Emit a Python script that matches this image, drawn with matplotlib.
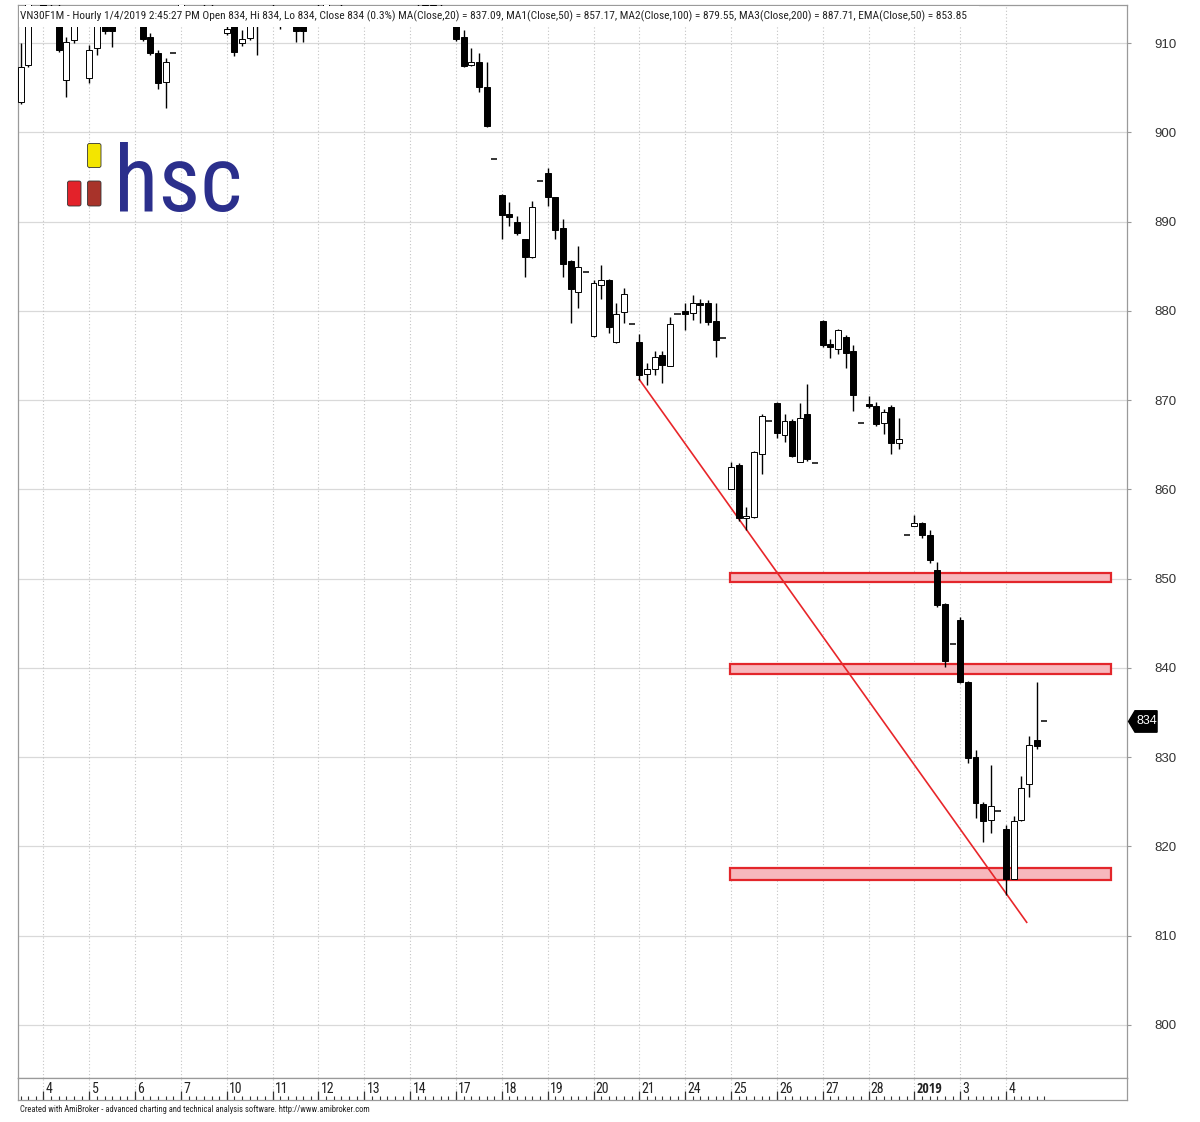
import numpy as np
import matplotlib
matplotlib.use("Agg")
import matplotlib.pyplot as plt
from matplotlib import font_manager as fm
from matplotlib.patches import Rectangle, FancyBboxPatch, Polygon
from matplotlib.transforms import blended_transform_factory

plt.rcParams["savefig.bbox"] = "standard"

title = ("VN30F1M - Hourly 1/4/2019 2:45:27 PM Open 834, Hi 834, Lo 834, Close 834 (0.3%) "
         "MA(Close,20) = 837.09, MA1(Close,50) = 857.17, MA2(Close,100) = 879.55, "
         "MA3(Close,200) = 887.71, EMA(Close,50) = 853.85")
footer = ("Created with AmiBroker - advanced charting and technical analysis software. "
          "http://www.amibroker.com")

# trading days shown on the date axis, 6 hourly bars each (last one is the ATC print)
day_labels = ["4", "5", "6", "7", "10", "11", "12", "13", "14", "17", "18", "19",
              "20", "21", "24", "25", "26", "27", "28", "2019", "3", "4"]
pre_bars = 3          # tail of Dec 3
bars_per_day = 6

opens = [
    903.4, 907.5, 916.0,                               # Dec 3
    916.0, 914.0, 914.0, 905.9, 910.3, 914.0,          # Dec 4
    906.05, 909.4, 912.5, 912.2, 913.0, 913.5,         # Dec 5
    913.0, 912.6, 910.7, 908.85, 905.6, 908.85,        # Dec 6
    913.0, 915.2, 916.4, 915.6, 914.5, 914.9,          # Dec 7
    911.1, 912.5, 910.0, 910.6, 912.5, 913.0,          # Dec 10
    913.5, 913.2, 912.8, 912.6, 912.4, 913.0,          # Dec 11
    913.6, 914.2, 915.3, 914.8, 915.5, 916.0,          # Dec 12
    916.2, 917.0, 916.5, 915.7, 916.3, 915.9,          # Dec 13
    915.6, 914.9, 915.4, 914.3, 913.8, 914.0,          # Dec 14
    913.0, 910.7, 907.5, 907.9, 905.04, 897.0,         # Dec 17
    893.0, 890.8, 890.0, 888.0, 886.0, 894.5,          # Dec 18
    895.4, 892.7, 889.24, 885.6, 882.14, 884.4,        # Dec 19
    877.2, 882.9, 883.45, 876.5, 879.9, 878.5,         # Dec 20
    876.5, 872.9, 873.45, 875.05, 873.85, 879.6,       # Dec 21
    880.0, 879.8, 880.9, 880.9, 878.9, 876.9,          # Dec 24
    860.0, 862.7, 856.8, 856.9, 864.0, 867.7,          # Dec 25
    869.7, 866.1, 867.7, 863.1, 868.4, 863.0,          # Dec 26
    878.9, 876.3, 875.7, 877.1, 875.5, 867.4,          # Dec 27
    869.6, 869.3, 867.4, 869.2, 865.2, 854.9,          # Dec 28
    855.9, 856.2, 854.9, 851.0, 847.2, 842.7,          # Jan 2
    845.4, 838.45, 830.0, 824.8, 823.0, 824.0,         # Jan 3
    822.0, 816.4, 823.0, 827.0, 831.9, 834.0,          # Jan 4
]
highs = [
    910.0, 916.5, 916.0,
    917.0, 915.0, 914.5, 910.7, 913.0, 914.0,
    909.8, 913.0, 913.0, 912.5, 914.0, 913.5,
    914.0, 913.0, 911.1, 909.2, 908.3, 908.85,
    915.8, 916.9, 917.3, 916.2, 915.4, 914.9,
    912.4, 913.0, 911.5, 913.5, 913.0, 913.0,
    914.5, 914.0, 913.5, 913.0, 912.8, 913.0,
    914.8, 915.6, 916.0, 915.9, 916.4, 916.0,
    917.4, 917.8, 917.2, 916.6, 917.1, 915.9,
    916.3, 915.8, 916.0, 915.1, 914.6, 914.0,
    913.5, 911.45, 909.4, 908.85, 907.9, 897.0,
    893.1, 892.2, 890.6, 888.1, 892.3, 894.5,
    896.0, 892.8, 890.25, 885.7, 887.26, 884.4,
    883.4, 885.1, 883.6, 880.9, 882.6, 878.5,
    877.4, 874.2, 875.55, 875.55, 879.34, 879.6,
    880.85, 881.8, 881.3, 881.2, 880.9, 876.9,
    863.1, 862.9, 858.0, 864.3, 868.4, 867.7,
    869.8, 868.4, 867.9, 869.7, 871.8, 863.0,
    879.0, 876.8, 878.0, 877.3, 876.2, 867.4,
    870.45, 869.8, 869.0, 869.4, 868.0, 854.9,
    857.1, 856.3, 855.45, 851.9, 847.3, 842.7,
    845.7, 838.5, 830.8, 825.0, 829.1, 824.0,
    822.4, 823.4, 827.9, 832.4, 838.45, 834.0,
]
lows = [
    903.2, 907.3, 916.0,
    913.0, 912.5, 909.0, 904.0, 910.0, 914.0,
    905.5, 908.65, 911.0, 909.6, 912.5, 913.5,
    912.5, 910.2, 908.65, 904.9, 902.7, 908.85,
    912.6, 914.6, 915.1, 914.2, 913.4, 914.9,
    910.9, 908.5, 909.7, 910.3, 908.65, 913.0,
    912.6, 911.6, 912.5, 910.1, 910.1, 913.0,
    912.8, 913.7, 914.4, 914.1, 914.9, 916.0,
    915.6, 916.1, 915.3, 914.9, 915.5, 915.9,
    914.6, 914.2, 913.9, 913.5, 913.0, 914.0,
    910.2, 907.3, 907.4, 904.5, 900.55, 897.0,
    888.1, 889.5, 888.5, 883.8, 885.9, 894.5,
    891.7, 888.0, 883.75, 878.6, 880.3, 884.4,
    877.1, 881.3, 877.55, 876.4, 878.6, 878.5,
    872.25, 871.7, 872.8, 871.9, 873.8, 879.6,
    877.85, 879.0, 878.6, 878.4, 874.8, 876.9,
    860.0, 856.4, 855.5, 856.8, 861.7, 867.7,
    865.8, 865.3, 863.6, 863.1, 863.2, 863.0,
    876.0, 874.7, 875.2, 873.6, 868.8, 867.4,
    869.1, 867.1, 866.2, 864.0, 864.5, 854.9,
    855.9, 854.6, 851.8, 846.8, 840.06, 842.7,
    838.3, 829.3, 823.15, 820.5, 821.5, 824.0,
    814.6, 816.3, 822.9, 825.5, 830.9, 834.0,
]
closes = [
    907.3, 915.5, 916.0,
    914.0, 913.0, 909.2, 910.15, 912.5, 914.0,
    909.2, 912.5, 911.3, 911.3, 913.5, 913.5,
    912.6, 910.5, 908.85, 905.56, 907.9, 908.85,
    915.2, 916.4, 915.6, 914.5, 914.9, 914.9,
    911.6, 909.0, 910.4, 913.0, 912.4, 913.0,
    913.2, 912.8, 912.9, 911.3, 911.4, 913.0,
    914.2, 915.3, 914.8, 915.5, 916.0, 916.0,
    917.0, 916.5, 915.7, 916.3, 915.9, 915.9,
    914.9, 915.4, 914.3, 913.8, 914.2, 914.0,
    910.5, 907.4, 907.9, 905.04, 900.7, 897.0,
    890.7, 890.5, 888.75, 886.06, 891.67, 894.5,
    892.7, 889.1, 885.24, 882.4, 884.87, 884.4,
    883.15, 883.4, 878.15, 879.7, 881.9, 878.5,
    872.8, 873.45, 874.8, 873.9, 878.5, 879.6,
    879.7, 880.85, 880.6, 878.8, 876.7, 876.9,
    862.5, 856.8, 857.0, 864.2, 868.2, 867.7,
    866.3, 867.7, 863.7, 868.0, 863.4, 863.0,
    876.2, 876.0, 877.8, 875.3, 870.6, 867.4,
    869.3, 867.3, 868.7, 865.2, 865.6, 854.9,
    856.2, 854.9, 852.1, 847.05, 840.8, 842.7,
    838.45, 829.9, 824.9, 822.8, 824.5, 824.0,
    816.4, 822.8, 826.5, 831.4, 831.2, 834.0,
]

# drawn studies: trendline (bar index, price) and support/resistance zones
trend_x = [81, 131.7]
trend_y = [872.3, 811.5]
zone_x = [92.9, 142.8]
zone_lo = [849.65, 839.3, 816.2]
zone_hi = [850.6, 840.45, 817.55]
y_ticks = list(range(800, 911, 10))


def narrow_props(bold=False):
    # look for a condensed sans face, else plain Liberation Sans
    want = ("bold", 700) if bold else ("normal", "regular", "book", 400)
    names = ("Liberation Sans Narrow", "Roboto Condensed", "Open Sans Condensed",
             "Noto Sans Condensed", "DejaVu Sans Condensed")
    cands = []
    for f in fm.fontManager.ttflist:
        if f.style != "normal" or f.weight not in want:
            continue
        if f.name in names:
            cands.append((0, f.fname))
        elif f.stretch in ("condensed", "semi-condensed") and f.name in (
                "DejaVu Sans", "Noto Sans", "Roboto", "Open Sans", "Liberation Sans"):
            cands.append((1, f.fname))
    if cands:
        return fm.FontProperties(fname=sorted(cands)[0][1])
    return fm.FontProperties(family=["Liberation Sans", "DejaVu Sans"],
                             weight="bold" if bold else "normal")


NARROW = narrow_props()
NARROW_B = narrow_props(bold=True)
PLAIN = ["Liberation Sans", "DejaVu Sans"]

o, h, l, c = (np.array(a) for a in (opens, highs, lows, closes))
x = np.arange(len(o))
day_start = pre_bars + bars_per_day * np.arange(len(day_labels))
XLIM = (-0.33, 144.83)

fig = plt.figure(figsize=(12, 11.22), dpi=100)
ax = fig.add_axes([0.015, 0.03922, 0.92417, 0.95633])
ax.set_xlim(*XLIM)
ax.set_ylim(794.06, 914.26)

# grid
for yv in y_ticks:
    ax.axhline(yv, color="#d9d9d9", lw=0.9, zorder=0)
for xv in day_start:
    ax.axvline(xv, color="#c4c4c4", lw=0.8, ls=(0, (1, 2)), zorder=0)

# zones + trendline
for lo, hi in zip(zone_lo, zone_hi):
    ax.add_patch(Rectangle((zone_x[0], lo), zone_x[1] - zone_x[0], hi - lo,
                           facecolor="#f7b8bd", edgecolor="#e3262b", lw=1.6, zorder=2))
ax.plot(trend_x, trend_y, color="#e8262a", lw=1.2, zorder=3)

# candles
dash = (h - l) < 1e-9
up = (c >= o) & ~dash
dn = (c < o) & ~dash
blo = np.minimum(o, c)
bhi = np.maximum(o, c)
m = ~dash
ax.vlines(x[m], l[m], blo[m], color="black", lw=1.0, zorder=4)
ax.vlines(x[m], bhi[m], h[m], color="black", lw=1.0, zorder=4)
bh = np.maximum(bhi - blo, 0.15)
ax.bar(x[dn], bh[dn], bottom=blo[dn], width=0.78, color="black",
       edgecolor="black", lw=0.7, zorder=5)
ax.bar(x[up], bh[up], bottom=blo[up], width=0.78, color="white",
       edgecolor="black", lw=0.7, zorder=5)
ax.hlines(c[dash], x[dash] - 0.4, x[dash] + 0.4, color="black", lw=1.1, zorder=5)

# price axis on the right
ax.yaxis.tick_right()
ax.set_yticks(y_ticks)
ax.set_xticks([])
ax.tick_params(axis="y", length=3, width=0.8, color="#999999", pad=17,
               labelsize=9.5, labelcolor="#333333")
for t in ax.get_yticklabels():
    t.set_family(PLAIN)
for s in ax.spines.values():
    s.set_color("#9a9a9a")
    s.set_linewidth(0.9)

# last price marker
bt = blended_transform_factory(ax.transAxes, ax.transData)
last = c[-1]
ax.add_patch(Polygon([(1.0014, last), (1.0072, last + 1.2), (1.0271, last + 1.2),
                      (1.0271, last - 1.2), (1.0072, last - 1.2)],
                     closed=True, transform=bt, facecolor="black", edgecolor="black",
                     clip_on=False, zorder=6))
ax.text(1.0175, last, f"{last:.0f}", transform=bt, color="white", family=PLAIN,
        fontsize=9, ha="center", va="center", clip_on=False, zorder=7)

# date axis strip
ax2 = fig.add_axes([0.015, 0.019608, 0.92417, 0.019608])
ax2.set_xlim(*XLIM)
ax2.set_ylim(0, 1)
ax2.set_xticks([])
ax2.set_yticks([])
for s in ax2.spines.values():
    s.set_color("#9a9a9a")
    s.set_linewidth(0.9)
ax2.vlines(day_start, 0.45, 1, color="#c4c4c4", lw=0.8, ls=(0, (1, 2)))
ax2.vlines(x, 0, 0.2, color="#333333", lw=0.8)
ax2.vlines(day_start, 0, 0.42, color="#333333", lw=0.9)
for k, lab in enumerate(day_labels):
    ax2.text(day_start[k] + 0.3, 0.52, lab, fontproperties=NARROW_B if lab == "2019" else NARROW,
             fontsize=10, ha="left", va="center", color="#222222")

# overlay in pixel coordinates (origin top-left) for title, footer and logo
ov = fig.add_axes([0, 0, 1, 1])
ov.set_xlim(0, 1200)
ov.set_ylim(1122, 0)
ov.axis("off")
ov.patch.set_alpha(0)

ov.add_patch(Rectangle((19, 6), 960, 21, facecolor="white", edgecolor="none"))
t_title = ov.text(20, 16, title, fontproperties=NARROW, fontsize=9, ha="left",
                  va="center", color="#222222")
t_foot = ov.text(20, 1109, footer, fontproperties=NARROW, fontsize=6.5, ha="left",
                 va="center", color="#222222")

# scale the long strings so they span the same width as in the screenshot
renderer = fig.canvas.get_renderer()
for t, target in ((t_title, 950), (t_foot, 352)):
    w = t.get_window_extent(renderer).width
    t.set_fontsize(t.get_fontsize() * target / w)

for (x0, y0, hh, fc) in [(87.5, 143.5, 24, "#f3e500"), (67.5, 181, 25, "#e3222a"),
                         (87.5, 181, 25, "#a8332a")]:
    ov.add_patch(FancyBboxPatch((x0, y0), 13.5, hh, boxstyle="round,pad=0,rounding_size=2",
                                facecolor=fc, edgecolor="#333333", lw=0.6))
ov.text(114, 211, "hsc", fontproperties=NARROW, fontsize=66, color="#2b2f8c",
        ha="left", va="baseline")

fig.savefig("out.png", dpi=100)
